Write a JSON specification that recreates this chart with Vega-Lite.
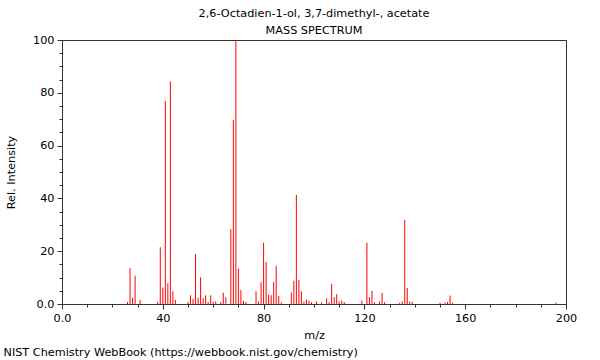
{
  "$schema": "https://vega.github.io/schema/vega-lite/v6.json",
  "autosize": {"type": "none"},
  "width": 504,
  "height": 264,
  "padding": {"left": 62, "top": 40, "right": 34, "bottom": 56},
  "background": "white",
  "config": {
    "font": "DejaVu Sans",
    "view": {"stroke": "#333", "strokeWidth": 1},
    "axis": {"labelFont": "DejaVu Sans", "titleFont": "DejaVu Sans", "labelFontSize": 11.25, "titleFontSize": 11.25, "titleFontWeight": "normal", "labelColor": "#000", "titleColor": "#000", "domainColor": "#333", "tickColor": "#333", "grid": false}
  },
  "title": {
    "text": ["2,6-Octadien-1-ol, 3,7-dimethyl-, acetate", "MASS SPECTRUM"],
    "orient": "top",
    "anchor": "middle",
    "frame": "group",
    "fontSize": 11.25,
    "fontWeight": "normal",
    "font": "DejaVu Sans",
    "lineHeight": 16.7,
    "offset": -2,
    "color": "#000"
  },
  "data": {
    "values": [
      {"mz": 26, "intensity": 0.8}, {"mz": 27, "intensity": 13.6}, {"mz": 28, "intensity": 2.4}, {"mz": 29, "intensity": 10.7}, {"mz": 31, "intensity": 1.5},
      {"mz": 38, "intensity": 0.8}, {"mz": 39, "intensity": 21.5}, {"mz": 40, "intensity": 6.2}, {"mz": 41, "intensity": 76.9}, {"mz": 42, "intensity": 7.9},
      {"mz": 43, "intensity": 84.3}, {"mz": 44, "intensity": 4.8}, {"mz": 45, "intensity": 1.5}, {"mz": 50, "intensity": 0.8}, {"mz": 51, "intensity": 3.3},
      {"mz": 52, "intensity": 2.0}, {"mz": 53, "intensity": 18.9}, {"mz": 54, "intensity": 2.4}, {"mz": 55, "intensity": 10.1}, {"mz": 56, "intensity": 2.2},
      {"mz": 57, "intensity": 3.3}, {"mz": 58, "intensity": 0.8}, {"mz": 59, "intensity": 3.3}, {"mz": 60, "intensity": 0.8}, {"mz": 61, "intensity": 1.0},
      {"mz": 63, "intensity": 0.7}, {"mz": 64, "intensity": 4.3}, {"mz": 65, "intensity": 2.6}, {"mz": 67, "intensity": 28.3}, {"mz": 68, "intensity": 69.7},
      {"mz": 69, "intensity": 100}, {"mz": 70, "intensity": 13.4}, {"mz": 71, "intensity": 5.3}, {"mz": 72, "intensity": 1.2}, {"mz": 73, "intensity": 0.7},
      {"mz": 77, "intensity": 4.8}, {"mz": 78, "intensity": 1.0}, {"mz": 79, "intensity": 8.2}, {"mz": 80, "intensity": 23.2}, {"mz": 81, "intensity": 15.9},
      {"mz": 82, "intensity": 3.5}, {"mz": 83, "intensity": 3.3}, {"mz": 84, "intensity": 8.3}, {"mz": 85, "intensity": 14.5}, {"mz": 86, "intensity": 3.1},
      {"mz": 87, "intensity": 0.6}, {"mz": 91, "intensity": 4.4}, {"mz": 92, "intensity": 8.8}, {"mz": 93, "intensity": 41.3}, {"mz": 94, "intensity": 9.1},
      {"mz": 95, "intensity": 4.8}, {"mz": 96, "intensity": 1.0}, {"mz": 97, "intensity": 1.7}, {"mz": 98, "intensity": 1.3}, {"mz": 99, "intensity": 0.7},
      {"mz": 101, "intensity": 1.0}, {"mz": 103, "intensity": 0.6}, {"mz": 105, "intensity": 2.1}, {"mz": 106, "intensity": 0.7}, {"mz": 107, "intensity": 7.6},
      {"mz": 108, "intensity": 2.6}, {"mz": 109, "intensity": 3.7}, {"mz": 110, "intensity": 1.0}, {"mz": 111, "intensity": 1.3}, {"mz": 112, "intensity": 0.7},
      {"mz": 119, "intensity": 1.3}, {"mz": 121, "intensity": 23.2}, {"mz": 122, "intensity": 2.6}, {"mz": 123, "intensity": 5.0}, {"mz": 124, "intensity": 0.7},
      {"mz": 126, "intensity": 1.0}, {"mz": 127, "intensity": 4.2}, {"mz": 128, "intensity": 0.7}, {"mz": 134, "intensity": 0.5}, {"mz": 135, "intensity": 1.0},
      {"mz": 136, "intensity": 31.8}, {"mz": 137, "intensity": 6.1}, {"mz": 138, "intensity": 1.0}, {"mz": 139, "intensity": 0.8}, {"mz": 150, "intensity": 0.5},
      {"mz": 152, "intensity": 0.6}, {"mz": 153, "intensity": 0.8}, {"mz": 154, "intensity": 3.2}, {"mz": 155, "intensity": 0.5}, {"mz": 196, "intensity": 0.5}
    ]
  },
  "layer": [
    {
      "mark": {"type": "rule", "color": "#ff0000", "strokeWidth": 1},
      "encoding": {
        "x": {
          "field": "mz", "type": "quantitative",
          "scale": {"domain": [0, 200], "nice": false, "zero": false},
          "axis": {
            "title": "m/z",
            "values": [0, 10, 20, 30, 40, 50, 60, 70, 80, 90, 100, 110, 120, 130, 140, 150, 160, 170, 180, 190, 200],
            "labelExpr": "datum.value === 0 ? '0.0' : (datum.value % 40 === 0 ? datum.label : '')",
            "tickSize": {"condition": {"test": "datum.value % 40 === 0", "value": 5}, "value": 3},
            "labelPadding": 3,
            "titlePadding": 6,
            "labelFlush": false
          }
        },
        "y": {
          "field": "intensity", "type": "quantitative",
          "scale": {"domain": [0, 100], "nice": false},
          "axis": {
            "title": "Rel. Intensity",
            "values": [0, 5, 10, 15, 20, 25, 30, 35, 40, 45, 50, 55, 60, 65, 70, 75, 80, 85, 90, 95, 100],
            "labelExpr": "datum.value === 0 ? '0.0' : (datum.value % 20 === 0 ? datum.label : '')",
            "tickSize": {"condition": {"test": "datum.value % 20 === 0", "value": 5}, "value": 3},
            "labelPadding": 3,
            "titlePadding": 16,
            "labelFlush": false
          }
        },
        "y2": {"datum": 0}
      }
    },
    {
      "mark": {"type": "point", "opacity": 0},
      "encoding": {
        "x": {
          "field": "mz", "type": "quantitative",
          "axis": {
            "orient": "bottom",
            "title": "NIST Chemistry WebBook (https://webbook.nist.gov/chemistry)",
            "labels": false, "ticks": false, "domain": false,
            "titleX": -59, "titleY": 48, "titleAlign": "left", "titleBaseline": "middle",
            "titleFontSize": 11.25
          }
        }
      }
    }
  ],
  "resolve": {"axis": {"x": "independent"}}
}
